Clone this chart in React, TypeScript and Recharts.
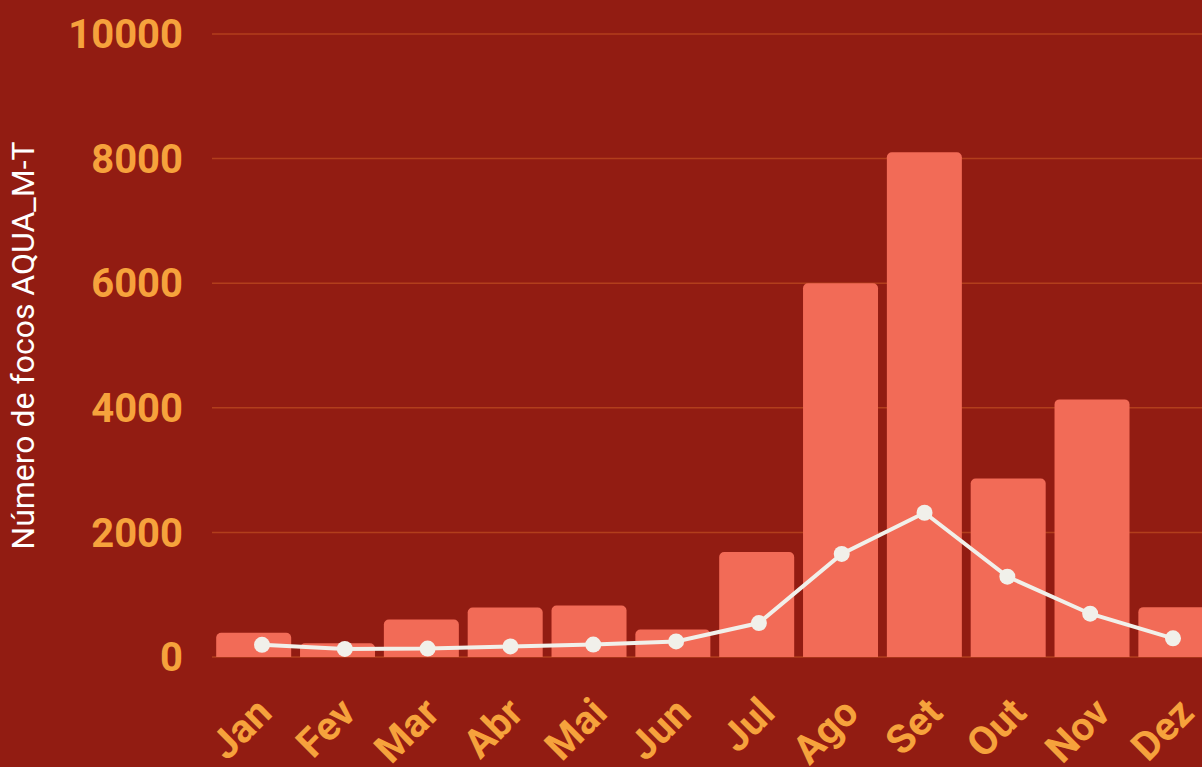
import { ComposedChart, Bar, Line, XAxis, YAxis, CartesianGrid } from 'recharts';

const months = ['Jan', 'Fev', 'Mar', 'Abr', 'Mai', 'Jun', 'Jul', 'Ago', 'Set', 'Out', 'Nov', 'Dez'];
const focosAno = [390, 220, 600, 795, 825, 440, 1685, 6000, 8100, 2865, 4135, 800];
const focosMedia = [195, 130, 135, 170, 200, 250, 545, 1655, 2315, 1290, 695, 300];
const yTicks = [0, 2000, 4000, 6000, 8000, 10000];

const data = months.map((mes, i) => ({ mes, ano: focosAno[i], media: focosMedia[i] }));

const BG = '#921c12';
const ORANGE = '#f6a23c';

const MonthTick = (props: any) => {
  const { x, y, payload } = props;
  const px = x + 20;
  const py = y + 50;
  return (
    <text
      x={px}
      y={py}
      transform={`rotate(-45, ${px}, ${py})`}
      textAnchor="end"
      fill={ORANGE}
      fontSize={40}
      fontWeight={700}
      fontFamily="Roboto, sans-serif"
    >
      {payload.value}
    </text>
  );
};

export default function App() {
  return (
    <div style={{ position: 'fixed', top: 0, left: 0, width: 1202, height: 767, overflow: 'hidden', background: BG }}>
      <ComposedChart
        width={1220}
        height={767}
        data={data}
        margin={{ top: 34, right: 2, bottom: 10, left: 12 }}
        barCategoryGap="5%"
      >
        <CartesianGrid vertical={false} stroke="#b23e1c" strokeWidth={1.5} />
        <XAxis
          dataKey="mes"
          height={100}
          axisLine={false}
          tickLine={false}
          interval={0}
          tick={<MonthTick />}
        />
        <XAxis xAxisId="pts" dataKey="mes" hide scale="point" padding={{ left: 50, right: 45 }} />
        <YAxis
          width={200}
          domain={[0, 10000]}
          ticks={yTicks}
          axisLine={false}
          tickLine={false}
          tickSize={0}
          tickMargin={29}
          tick={{ fill: ORANGE, fontSize: 40, fontWeight: 700, fontFamily: 'Roboto, sans-serif' }}
          label={{
            value: 'Número de focos AQUA_M-T',
            angle: -90,
            position: 'insideLeft',
            offset: 11,
            fill: '#ffffff',
            fontSize: 32,
            fontFamily: 'Roboto, sans-serif',
            style: { textAnchor: 'middle' },
          }}
        />
        <Bar dataKey="ano" fill="#f26b57" radius={[5, 5, 0, 0]} isAnimationActive={false} />
        <Line
          xAxisId="pts"
          dataKey="media"
          type="linear"
          stroke="#f1f0ea"
          strokeWidth={4}
          dot={{ r: 8, fill: '#f1f0ea', stroke: 'none' }}
          isAnimationActive={false}
        />
      </ComposedChart>
    </div>
  );
}
